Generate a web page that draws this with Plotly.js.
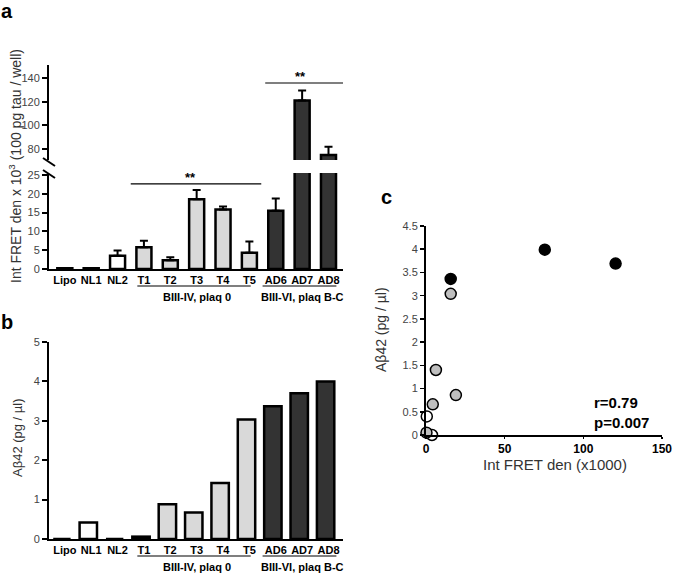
<!DOCTYPE html>
<html>
<head>
<meta charset="utf-8">
<script src="https://cdn.plot.ly/plotly-3.0.1.min.js"></script>
<style>html,body{margin:0;padding:0;background:#fff;}#chart{width:673px;height:574px;}</style>
</head>
<body>
<div id="chart"></div>
<script>
// ---------- data ----------
const categories = ['Lipo','NL1','NL2','T1','T2','T3','T4','T5','AD6','AD7','AD8'];
const groups     = ['ctrl','ctrl','ctrl','T','T','T','T','T','AD','AD','AD'];
const fretValues = [0.2, 0.2, 3.5, 5.8, 2.3, 18.5, 15.8, 4.3, 15.5, 121, 75];
const fretErrors = [0, 0, 1.4, 1.7, 0.8, 2.5, 0.8, 3.0, 3.2, 8.5, 7];
const abetaValues = [0, 0.42, 0, 0.06, 0.88, 0.67, 1.42, 3.03, 3.37, 3.70, 4.0];

const whiteX = [0.5, 3.8];
const whiteY = [0.40, 0.0];
const grayX  = [0.3, 4.3, 6.3, 19.0, 15.7];
const grayY  = [0.05, 0.66, 1.40, 0.86, 3.04];
const blackX = [15.7, 75.5, 120.5];
const blackY = [3.36, 3.99, 3.69];

// ---------- styles ----------
const W = 673, H = 574;
const px = v => v / W;
const py = v => 1 - v / H;
const FONT = 'Arial, "Liberation Sans", sans-serif';
const groupColor = {ctrl: '#ffffff', T: '#d9d9d9', AD: '#333333'};
const barColors = groups.map(g => groupColor[g]);
const LOWER_MAX = 25.5;

const errLower = fretValues.map((v, i) => v < LOWER_MAX ? fretErrors[i] : 0);

const barLine = {color: '#000', width: 2.5};
const errStyle = {type: 'data', symmetric: false, color: '#000', thickness: 2, width: 4};

const traces = [
  {type: 'bar', x: categories, y: fretValues, xaxis: 'x', yaxis: 'y', width: 0.57,
   marker: {color: barColors, line: barLine},
   error_y: Object.assign({array: errLower, arrayminus: categories.map(() => 0)}, errStyle),
   hoverinfo: 'skip', showlegend: false},
  {type: 'bar', x: categories, y: fretValues, xaxis: 'x', yaxis: 'y2', width: 0.57,
   marker: {color: barColors, line: barLine},
   error_y: Object.assign({array: fretErrors, arrayminus: categories.map(() => 0)}, errStyle),
   hoverinfo: 'skip', showlegend: false},
  {type: 'bar', x: categories, y: abetaValues, xaxis: 'x2', yaxis: 'y3', width: 0.66, offset: -0.44,
   marker: {color: barColors, line: barLine},
   hoverinfo: 'skip', showlegend: false},
  {type: 'scatter', mode: 'markers', x: whiteX, y: whiteY, xaxis: 'x3', yaxis: 'y4', cliponaxis: false,
   marker: {size: 11, color: '#ffffff', line: {color: '#000', width: 1.5}}, showlegend: false},
  {type: 'scatter', mode: 'markers', x: grayX, y: grayY, xaxis: 'x3', yaxis: 'y4', cliponaxis: false,
   marker: {size: 11, color: '#bfbfbf', line: {color: '#000', width: 1.5}}, showlegend: false},
  {type: 'scatter', mode: 'markers', x: blackX, y: blackY, xaxis: 'x3', yaxis: 'y4', cliponaxis: false,
   marker: {size: 11, color: '#000000', line: {color: '#000', width: 1.5}}, showlegend: false}
];

const catAxis = (anchor) => ({
  type: 'category', anchor: anchor, domain: [px(49), px(343)], range: [-0.6, 10.55],
  showline: true, linecolor: '#000', linewidth: 2, ticks: '', showgrid: false, zeroline: false,
  tickfont: {family: FONT, size: 11, color: '#000', weight: 'bold'}, fixedrange: true
});
const valAxis = (anchor, dom, range, dtick) => ({
  anchor: anchor, domain: dom, range: range, dtick: dtick, tick0: 0,
  showline: true, linecolor: '#000', linewidth: 2, ticks: 'outside', ticklen: 5, tickwidth: 2, tickcolor: '#000',
  showgrid: false, zeroline: false, tickfont: {family: FONT, size: 11, color: '#444'}, fixedrange: true
});

const ann = (text, x, y, opts) => Object.assign({
  text: text, x: x, y: y, xref: 'paper', yref: 'paper', showarrow: false,
  xanchor: 'center', yanchor: 'middle',
  font: {family: FONT, size: 11, color: '#000'}
}, opts || {});

const line = (x0, y0, x1, y1, xref, yref, w) => ({
  type: 'line', x0: x0, y0: y0, x1: x1, y1: y1, xref: xref, yref: yref,
  line: {color: '#000', width: w || 1.2}
});

const layout = {
  width: W, height: H, margin: {l: 0, r: 0, t: 0, b: 0},
  paper_bgcolor: '#fff', plot_bgcolor: 'rgba(0,0,0,0)',
  barmode: 'overlay', showlegend: false,
  font: {family: FONT},
  xaxis: catAxis('y'),
  yaxis: valAxis('x', [py(269), py(173)], [0, LOWER_MAX], 5),
  yaxis2: valAxis('x', [py(160), py(65)], [70.7, 151], 20),
  xaxis2: catAxis('y3'),
  yaxis3: valAxis('x2', [py(539), py(342)], [0, 5], 1),
  xaxis3: {anchor: 'y4', domain: [px(426), px(662)], range: [0, 150], dtick: 50, tick0: 0,
    showline: true, linecolor: '#000', linewidth: 2, ticks: 'outside', ticklen: 2, tickwidth: 1.5, tickcolor: '#000',
    showgrid: false, zeroline: false, tickfont: {family: FONT, size: 12, color: '#000', weight: 'bold'},
    fixedrange: true},
  yaxis4: {anchor: 'x3', domain: [py(435), py(226)], range: [0, 4.5], dtick: 0.5, tick0: 0,
    showline: true, linecolor: '#000', linewidth: 2, ticks: 'outside', ticklen: 4, tickwidth: 1.5, tickcolor: '#000',
    showgrid: false, zeroline: false, tickfont: {family: FONT, size: 11, color: '#444'},
    fixedrange: true},
  annotations: [
    ann('<b>a</b>', px(7), py(11), {font: {family: FONT, size: 20, color: '#000'}}),
    ann('<b>b</b>', px(7), py(322), {font: {family: FONT, size: 20, color: '#000'}}),
    ann('<b>c</b>', px(387), py(197), {font: {family: FONT, size: 20, color: '#000'}}),
    ann('Int FRET den x 10<sup>3</sup> (100 pg tau / well)', px(15), py(166),
        {textangle: -90, font: {family: FONT, size: 14, color: '#333'}}),
    ann('Aβ42 (pg / µl)', px(18), py(438), {textangle: -90, font: {family: FONT, size: 13, color: '#333'}}),
    ann('Aβ42 (pg / µl)', px(381), py(330), {textangle: -90, font: {family: FONT, size: 14, color: '#333'}}),
    ann('Int FRET den (x1000)', px(555), py(464), {font: {family: FONT, size: 15, color: '#333'}}),
    // group labels panel a
    ann('<b>BIII-IV, plaq 0</b>', 5, py(297), {xref: 'x'}),
    ann('<b>BIII-VI, plaq B-C</b>', 9, py(297), {xref: 'x'}),
    // group labels panel b
    ann('<b>BIII-IV, plaq 0</b>', 5, py(567), {xref: 'x2'}),
    ann('<b>BIII-VI, plaq B-C</b>', 9, py(567), {xref: 'x2'}),
    // significance
    ann('<b>**</b>', 4.75, 24.4, {xref: 'x', yref: 'y', font: {family: FONT, size: 13, color: '#000'}}),
    ann('<b>**</b>', 8.95, 141, {xref: 'x', yref: 'y2', font: {family: FONT, size: 13, color: '#000'}}),
    // stats
    ann('<b>r=0.79</b>', 105.5, 0.69, {xref: 'x3', yref: 'y4', xanchor: 'left', font: {family: FONT, size: 15, color: '#000'}}),
    ann('<b>p=0.007</b>', 105.5, 0.28, {xref: 'x3', yref: 'y4', xanchor: 'left', font: {family: FONT, size: 15, color: '#000'}})
  ],
  shapes: [
    // significance lines
    line(2.5, 22.6, 7.45, 22.6, 'x', 'y', 1.2),
    line(7.6, 135.8, 10.7, 135.8, 'x', 'y2', 1.2),
    // group underlines panel a
    line(2.75, py(286), 7.05, py(286), 'x', 'paper', 1.2),
    line(7.5, py(286), 10.3, py(286), 'x', 'paper', 1.2),
    // group underlines panel b
    line(2.75, py(556), 7.05, py(556), 'x2', 'paper', 1.2),
    line(7.5, py(556), 10.3, py(556), 'x2', 'paper', 1.2),
    // axis break marks
    line(px(43), py(158), px(55), py(166), 'paper', 'paper', 2),
    line(px(43), py(170), px(55), py(178), 'paper', 'paper', 2)
  ]
};

Plotly.newPlot('chart', traces, layout, {staticPlot: true, displayModeBar: false});
</script>
</body>
</html>
